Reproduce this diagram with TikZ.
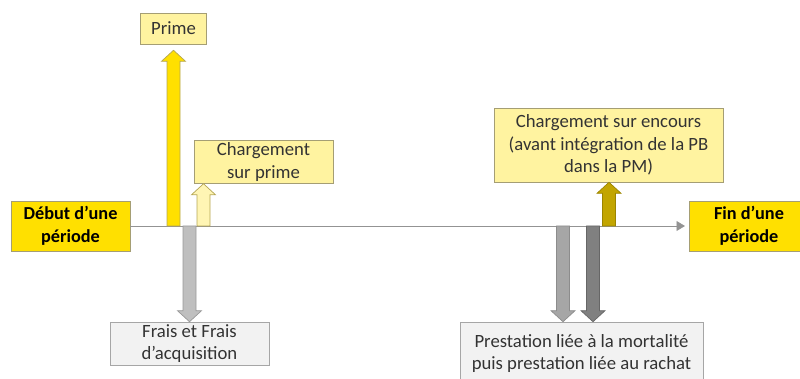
\documentclass[tikz,border=0pt]{standalone}
\usepackage{fontspec}
\setmainfont{Carlito}
\usetikzlibrary{arrows.meta,calc}
\definecolor{lightgold}{HTML}{FFF3A0}
\definecolor{gold}{HTML}{FFE000}
\definecolor{palegold}{HTML}{FFF5B4}
\definecolor{olive}{HTML}{C2A500}
\definecolor{boxedge}{HTML}{A59E74}
\definecolor{arrowedge}{HTML}{B5A655}
\definecolor{lightgray}{HTML}{F2F2F2}
\definecolor{txtgray}{HTML}{333333}
\tikzset{
  lbl/.style={align=center,inner sep=0pt,text=txtgray,font=\fontsize{13.3}{16.2}\selectfont},
  yellowbox/.style={lbl,draw=boxedge,fill=lightgold},
  goldbox/.style={lbl,draw=boxedge,fill=gold,text=black,font=\fontsize{13}{16.2}\selectfont\bfseries},
  graybox/.style={lbl,draw=gray!70,fill=lightgray},
  axisline/.style={draw=gray!85,line width=0.6pt,-{Triangle[length=6pt,width=7pt]}},
}
% block arrow from #2 (base) to #3 (tip)
\newcommand\blockarrow[3]{%
  \path ($(#3)!0.275cm!(#2)$) coordinate (h);
  \draw[#1,line width=0.5pt] ($(#2)+(-6.5,0)$) -- ($(h)+(-6.5,0)$) -- ($(h)+(-12,0)$) -- (#3)
    -- ($(h)+(12,0)$) -- ($(h)+(6.5,0)$) -- ($(#2)+(6.5,0)$) -- cycle;}
\begin{document}
\begin{tikzpicture}[x=0.025cm,y=-0.025cm]
\useasboundingbox (0,0) rectangle (800,379);
\begin{scope}
\clip (0,0) rectangle (800,379);
% boxes
\node[yellowbox,minimum width=66*0.025cm,minimum height=31*0.025cm](prime)at(173.5,28.5){Prime};
\node[yellowbox,minimum width=139*0.025cm,minimum height=43*0.025cm](cprime)at(263.5,162){Chargement\\sur prime};
\node[yellowbox,minimum width=229*0.025cm,minimum height=74*0.025cm](encours)at(608.5,145){Chargement sur encours\\(avant intégration de la PB\\dans la PM)};
\node[goldbox,minimum width=119*0.025cm,minimum height=50*0.025cm](debut)at(70.5,226){Début d’une\\période};
\node[goldbox,minimum width=120*0.025cm,minimum height=50*0.025cm](fin)at(749,226){Fin d’une\\période};
\node[graybox,minimum width=159*0.025cm,minimum height=43*0.025cm](frais)at(189.5,343.5){Frais et Frais\\d’acquisition};
\node[graybox,minimum width=243*0.025cm,minimum height=63*0.025cm](prest)at(581.5,353.5){Prestation liée à la mortalité\\puis prestation liée au rachat};
% time axis
\coordinate(axisend)at(685,226);
\draw[axisline](debut.east)--(axisend);
% flows on the axis
\coordinate(aPrime)at(173.5,226);\coordinate(aCharge)at(203.5,226);\coordinate(aFrais)at(189.5,226);
\coordinate(aMort)at(563,226);\coordinate(aRachat)at(593,226);\coordinate(aEnc)at(609,226);
\blockarrow{fill=gold,draw=arrowedge}{aPrime}{$(aPrime |- prime.south)+(0,6)$}
\blockarrow{fill=palegold,draw=arrowedge}{aCharge}{aCharge |- cprime.south}
\blockarrow{fill=olive,draw=olive!80!black}{aEnc}{aEnc |- encours.south}
\blockarrow{fill=gray!50,draw=gray!80}{aFrais}{aFrais |- frais.north}
\blockarrow{fill=gray!70,draw=gray!90}{aMort}{aMort |- prest.north}
\blockarrow{fill=gray,draw=gray!80!black}{aRachat}{aRachat |- prest.north}
\end{scope}
\end{tikzpicture}
\end{document}
